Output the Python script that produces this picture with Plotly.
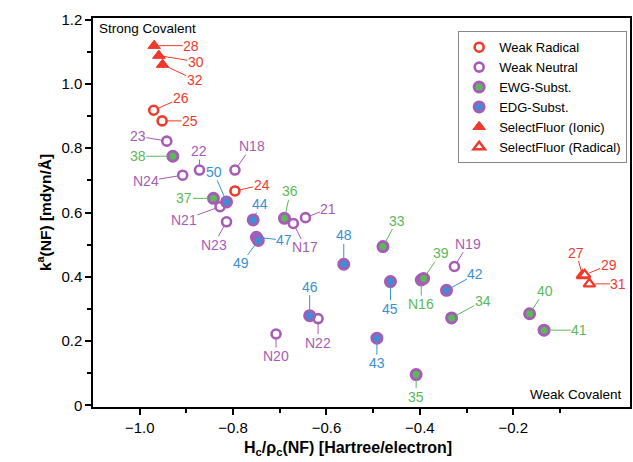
import plotly.graph_objects as go

RED = "#ee3a2c"
PURPLE = "#a65cb6"
GREEN = "#5cb85a"
BLUE = "#3b8fd2"

# Weak Radical
wr_labels = ["26", "25", "24"]
wr_x = [-0.970, -0.952, -0.796]
wr_y = [0.918, 0.885, 0.667]

# Weak Neutral
wn_labels = ["23", "22", "N18", "N24", "N21", "N23", "N17", "21", "N20", "N22", "N19"]
wn_x = [-0.942, -0.872, -0.796, -0.908, -0.828, -0.814, -0.671, -0.645, -0.708, -0.618, -0.326]
wn_y = [0.822, 0.732, 0.732, 0.716, 0.618, 0.571, 0.566, 0.584, 0.222, 0.270, 0.432]

# EWG-Subst.
ewg_labels = ["38", "37", "36", "33", "N16", "39", "34", "35", "40", "41"]
ewg_x = [-0.929, -0.842, -0.690, -0.479, -0.397, -0.392, -0.332, -0.408, -0.165, -0.134]
ewg_y = [0.775, 0.644, 0.582, 0.494, 0.390, 0.395, 0.272, 0.096, 0.285, 0.234]

# EDG-Subst.
edg_labels = ["50", "44", "47", "49", "48", "46", "45", "43", "42"]
edg_x = [-0.814, -0.757, -0.750, -0.746, -0.563, -0.636, -0.463, -0.492, -0.343]
edg_y = [0.633, 0.577, 0.523, 0.513, 0.439, 0.279, 0.385, 0.209, 0.358]

# SelectFluor (Ionic)
sfi_labels = ["28", "30", "32"]
sfi_x = [-0.969, -0.959, -0.951]
sfi_y = [1.119, 1.088, 1.060]

# SelectFluor (Radical)
sfr_labels = ["27", "29", "31"]
sfr_x = [-0.052, -0.047, -0.037]
sfr_y = [0.404, 0.406, 0.378]

# label offsets in pixels (text centre relative to point)
offsets = {
    "28": (37, 0), "30": (37, 6), "32": (32, 15), "26": (27, -12), "25": (28, 0),
    "24": (27, -6), "23": (-29, -5), "38": (-35, 0), "22": (0, -19), "N18": (17, -24),
    "N24": (-37, 6), "50": (-13, -30), "37": (-29, 0), "N21": (-36, 13), "N23": (-13, 23),
    "44": (7, -16), "36": (6, -27), "21": (23, -9), "N17": (12, 24), "47": (28, 3),
    "49": (-17, 23), "48": (0, -29), "46": (0, -29), "N22": (0, 24), "N20": (0, 22),
    "45": (0, 27), "43": (0, 25), "35": (0, 22), "N16": (0, 24), "33": (14, -26),
    "39": (17, -25), "N19": (14, -23), "42": (29, -16), "34": (31, -17), "40": (15, -23),
    "41": (35, 0), "27": (-6, -23), "29": (24, -10), "31": (29, 0),
}

fig = go.Figure()

fig.add_trace(go.Scatter(x=wr_x, y=wr_y, mode="markers", name="Weak Radical",
    marker=dict(symbol="circle", size=9, color="white", line=dict(color=RED, width=2.6))))
fig.add_trace(go.Scatter(x=wn_x, y=wn_y, mode="markers", name="Weak Neutral",
    marker=dict(symbol="circle", size=9, color="white", line=dict(color=PURPLE, width=2.6))))
fig.add_trace(go.Scatter(x=ewg_x, y=ewg_y, mode="markers", name="EWG-Subst.",
    marker=dict(symbol="circle", size=10, color=GREEN, line=dict(color=PURPLE, width=3))))
fig.add_trace(go.Scatter(x=edg_x, y=edg_y, mode="markers", name="EDG-Subst.",
    marker=dict(symbol="circle", size=10, color=BLUE, line=dict(color=PURPLE, width=3))))
fig.add_trace(go.Scatter(x=sfi_x, y=sfi_y, mode="markers", name="SelectFluor (Ionic)",
    marker=dict(symbol="triangle-up", size=11, color=RED, line=dict(color=RED, width=1))))
fig.add_trace(go.Scatter(x=sfr_x, y=sfr_y, mode="markers", name="SelectFluor (Radical)",
    marker=dict(symbol="triangle-up", size=10, color="white", line=dict(color=RED, width=2.4))))

groups = [
    (wr_labels, wr_x, wr_y, RED),
    (wn_labels, wn_x, wn_y, PURPLE),
    (ewg_labels, ewg_x, ewg_y, GREEN),
    (edg_labels, edg_x, edg_y, BLUE),
    (sfi_labels, sfi_x, sfi_y, RED),
    (sfr_labels, sfr_x, sfr_y, RED),
]
for labels, xs, ys, col in groups:
    for lab, x, y in zip(labels, xs, ys):
        ax, ay = offsets[lab]
        fig.add_annotation(x=x, y=y, text=lab, showarrow=True, arrowhead=0,
                           arrowwidth=1, arrowcolor=col, ax=ax, ay=ay, standoff=5,
                           borderpad=0, font=dict(size=14, color=col,
                                                  family="Liberation Sans, Arial"))

fig.add_annotation(x=0, y=1, xref="paper", yref="paper", xanchor="left", yanchor="top",
                   xshift=4, yshift=-1, text="Strong Covalent", showarrow=False,
                   font=dict(size=13.5, color="black"))
fig.add_annotation(x=1, y=0, xref="paper", yref="paper", xanchor="right", yanchor="bottom",
                   xshift=-6, yshift=3, text="Weak Covalent", showarrow=False,
                   font=dict(size=13.5, color="black"))

# x-axis title (placed as annotation to match the reference's horizontal position)
fig.add_annotation(x=0.475, y=0, xref="paper", yref="paper", xanchor="center", yanchor="top",
                   yshift=-30, showarrow=False,
                   text="<b>H<sub>c</sub>/ρ<sub>c</sub>(NF) [Hartree/electron]</b>",
                   font=dict(size=16, color="black"))

fig.update_layout(
    width=633, height=462,
    margin=dict(l=93, r=1, t=18, b=55),
    paper_bgcolor="white", plot_bgcolor="white",
    font=dict(family="Liberation Sans, Arial, Helvetica", size=15, color="black"),
    showlegend=True,
    legend=dict(x=0.680, y=0.966, xanchor="left", yanchor="top",
                bordercolor="#888888", borderwidth=1, bgcolor="white",
                font=dict(size=13), tracegroupgap=0),
)
fig.update_xaxes(range=[-1.1, 0.05], showgrid=False, zeroline=False,
                 showline=True, linecolor="black", linewidth=1.5, mirror=True,
                 ticks="outside", ticklen=6, tickwidth=1.5, tickcolor="black",
                 tickvals=[-1.0, -0.8, -0.6, -0.4, -0.2], tickformat=".1f",
                 minor=dict(tickvals=[-0.9, -0.7, -0.5, -0.3, -0.1], ticks="outside",
                            ticklen=4, tickwidth=1.5, tickcolor="black"))
fig.update_yaxes(range=[-0.005, 1.205], showgrid=False, zeroline=False,
                 showline=True, linecolor="black", linewidth=1.5, mirror=True,
                 ticks="outside", ticklen=6, tickwidth=1.5, tickcolor="black",
                 tickvals=[0, 0.2, 0.4, 0.6, 0.8, 1.0, 1.2],
                 ticktext=["0", "0.2", "0.4", "0.6", "0.8", "1.0", "1.2"],
                 minor=dict(tickvals=[0.1, 0.3, 0.5, 0.7, 0.9, 1.1], ticks="outside",
                            ticklen=4, tickwidth=1.5, tickcolor="black"),
                 title=dict(text="<b>k<sup>a</sup>(NF) [mdyn/Å]</b>",
                            font=dict(size=15.5), standoff=6))

fig.write_html("out.html")
